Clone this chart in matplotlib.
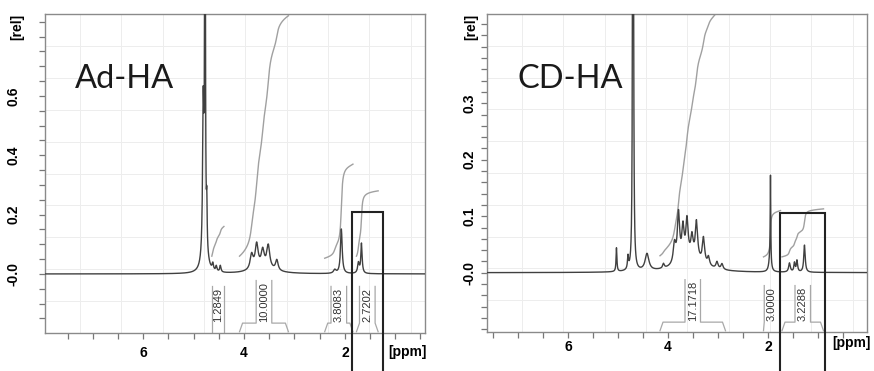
import numpy as np
import matplotlib
matplotlib.use("Agg")
import matplotlib.pyplot as plt
from matplotlib.patches import Rectangle
from matplotlib.ticker import FixedLocator, MultipleLocator
import matplotlib.transforms as mtransforms

# ---------------- data: peak lists (ppm, height, half-width) ----------------
ad_pos = [4.81, 4.775, 4.78, 4.74, 4.62, 4.55, 4.47, 3.62, 3.85, 3.75, 3.63, 3.52, 3.35, 2.20, 2.07, 1.73, 1.67]
ad_hgt = [0.48, 5.0, 0.12, 0.14, 0.022, 0.018, 0.022, 0.02, 0.05, 0.08, 0.055, 0.075, 0.035, 0.012, 0.15, 0.035, 0.10]
ad_wid = [0.015, 0.004, 0.045, 0.008, 0.015, 0.015, 0.015, 0.25, 0.035, 0.035, 0.035, 0.035, 0.03, 0.03, 0.02, 0.02, 0.015]

cd_pos = [5.03, 4.80, 4.70, 4.685, 4.42, 4.09, 3.55, 3.87, 3.79, 3.70, 3.62, 3.52, 3.43, 3.29, 3.19, 3.02, 2.92,
          1.96, 1.95, 1.57, 1.47, 1.42, 1.27]
cd_hgt = [0.042, 0.022, 5.0, 0.06, 0.03, 0.008, 0.025, 0.035, 0.085, 0.055, 0.065, 0.035, 0.065, 0.045, 0.015, 0.012,
          0.01, 0.025, 0.15, 0.016, 0.016, 0.02, 0.048]
cd_wid = [0.01, 0.012, 0.004, 0.012, 0.045, 0.02, 0.3, 0.03, 0.027, 0.027, 0.027, 0.027, 0.027, 0.027, 0.025,
          0.025, 0.025, 0.025, 0.006, 0.02, 0.015, 0.015, 0.017]

# integrals: (start ppm, end ppm, start y, end y, label)
ad_int_start = [4.64, 4.09, 2.40, 1.77]
ad_int_end = [4.40, 3.12, 1.84, 1.34]
ad_int_y0 = [0.06, 0.06, 0.053, 0.06]
ad_int_y1 = [0.16, 0.87, 0.37, 0.28]
ad_int_labels = ["1.2849", "10.0000", "3.8083", "2.7202"]

cd_int_start = [4.16, 2.09, 1.72]
cd_int_end = [2.85, 1.75, 0.89]
cd_int_y0 = [0.03, 0.028, 0.028]
cd_int_y1 = [0.48, 0.11, 0.113]
cd_int_labels = ["17.1718", "3.0000", "3.2288"]

ad_yticks = [0.0, 0.2, 0.4, 0.6]
ad_yticklabels = ["-0.0", "0.2", "0.4", "0.6"]
cd_yticks = [0.0, 0.1, 0.2, 0.3]
cd_yticklabels = ["-0.0", "0.1", "0.2", "0.3"]
xticks = [6, 4, 2]
xticklabels = ["6", "4", "2"]

# highlighted boxes (ppm left, ppm right, top)
ad_box = (1.855, 1.24, 0.208)
cd_box = (1.754, 0.866, 0.106)

W, H = 874, 371
fig = plt.figure(figsize=(W / 100, H / 100), dpi=100)


def spectrum(x, pos, hgt, wid):
    y = np.zeros_like(x)
    for p, h, w in zip(pos, hgt, wid):
        y += h * w ** 2 / ((x - p) ** 2 + w ** 2)
    return y


def panel(rect, xlim, ylim, pos, hgt, wid, istart, iend, iy0, iy1, ilabels,
          yticks, ytl, yminor, title, box, ylab_pad, xlab_pad):
    ax = fig.add_axes(rect)
    x = np.linspace(-0.5, 8.5, 30000)
    y = spectrum(x, pos, hgt, wid)
    ax.set_xlim(*xlim)
    ax.set_ylim(*ylim)
    # faint grid (style)
    for k in range(1, 10):
        ax.plot([0, 1], [k / 10, k / 10], transform=ax.transAxes, color="#ededed", lw=0.7, zorder=0)
    for k in range(9):
        fx = 0.092 + k * 0.1088
        ax.plot([fx, fx], [0, 1], transform=ax.transAxes, color="#ededed", lw=0.7, zorder=0)
    ax.plot(x, y, color="#404040", lw=1.0, zorder=3)
    # integrals
    trans = mtransforms.blended_transform_factory(ax.transData, ax.transAxes)
    for s, e, y0, y1, lab in zip(istart, iend, iy0, iy1, ilabels):
        xi = np.linspace(s, e, 600)
        yi = spectrum(xi, pos, hgt, wid)
        c = np.concatenate([[0], np.cumsum((yi[1:] + yi[:-1]) / 2 * np.abs(np.diff(xi)))])
        c = c / c[-1]
        ax.plot(xi, y0 + (y1 - y0) * c, color="#a0a0a0", lw=1.0, zorder=2)
        # bracket
        cen = (s + e) / 2
        hw = 0.155
        bl, br = min(cen + hw, s), max(cen - hw, e)
        base, sh = 0.004, 0.031
        top = 0.035 + 0.0185 * len(lab)
        dl = min(0.06, s - bl)
        dr = min(0.06, br - e)
        ax.plot([s, s - dl, bl, bl], [base, sh, sh, top], transform=trans, color="#a8a8a8", lw=0.9,
                clip_on=False)
        ax.plot([e, e + dr, br, br], [base, sh, sh, top], transform=trans,
                color="#a8a8a8", lw=0.9, clip_on=False)
        ax.text(cen, sh + 0.004, lab, rotation=90, ha="center", va="bottom", transform=trans,
                fontsize=8, color="#333333", family="Liberation Sans")
    # box
    ax.add_patch(Rectangle((box[0], ylim[0] - 1.0), box[1] - box[0], box[2] - ylim[0] + 1.0,
                           fill=False, ec="#222222", lw=1.5, clip_on=False, zorder=5))
    # ticks
    ax.xaxis.set_major_locator(FixedLocator(xticks))
    ax.set_xticklabels(xticklabels)
    ax.xaxis.set_minor_locator(MultipleLocator(0.5))
    ax.yaxis.set_major_locator(FixedLocator(yticks))
    ax.set_yticklabels(ytl)
    ax.yaxis.set_minor_locator(MultipleLocator(yminor))
    ax.tick_params(axis="both", which="both", direction="out", length=4.5, width=0.9, color="#777777")
    ax.tick_params(axis="y", which="major", pad=ylab_pad, labelrotation=90)
    ax.tick_params(axis="x", which="major", pad=xlab_pad)
    for lab in ax.get_yticklabels():
        lab.set_va("center")
        lab.set_fontweight("bold")
        lab.set_family("Liberation Sans")
        lab.set_fontsize(10)
    for lab in ax.get_xticklabels():
        lab.set_fontweight("bold")
        lab.set_family("Liberation Sans")
        lab.set_fontsize(10)
    for sp in ax.spines.values():
        sp.set_color("#8a8a8a")
        sp.set_linewidth(1.0)
    ax.text(0.08, 0.768, title, transform=ax.transAxes, fontsize=23.5, family="Lato",
            color="#1a1a1a", va="baseline", ha="left")
    return ax


axL = panel([45 / W, (H - 333) / H, 380 / W, 319 / H], (7.95, 0.41), (-0.199, 0.876),
            ad_pos, ad_hgt, ad_wid, ad_int_start, ad_int_end, ad_int_y0, ad_int_y1, ad_int_labels,
            ad_yticks, ad_yticklabels, 0.05, "Ad-HA", ad_box, 13, 5)
axR = panel([487 / W, (H - 332) / H, 380 / W, 318 / H], (7.62, 0.02), (-0.105, 0.458),
            cd_pos, cd_hgt, cd_wid, cd_int_start, cd_int_end, cd_int_y0, cd_int_y1, cd_int_labels,
            cd_yticks, cd_yticklabels, 0.02, "CD-HA", cd_box, 3, 1)

# axis unit labels
fig.text(17 / W, 1 - 27 / H, "[rel]", rotation=90, ha="center", va="center", fontsize=10,
         fontweight="bold", family="Liberation Sans")
fig.text(471 / W, 1 - 27 / H, "[rel]", rotation=90, ha="center", va="center", fontsize=10,
         fontweight="bold", family="Liberation Sans")
fig.text(407 / W, 1 - 352 / H, "[ppm]", ha="center", va="center", fontsize=10,
         fontweight="bold", family="Liberation Sans")
fig.text(851 / W, 1 - 343 / H, "[ppm]", ha="center", va="center", fontsize=10,
         fontweight="bold", family="Liberation Sans")

fig.savefig("out.png", dpi=100)
